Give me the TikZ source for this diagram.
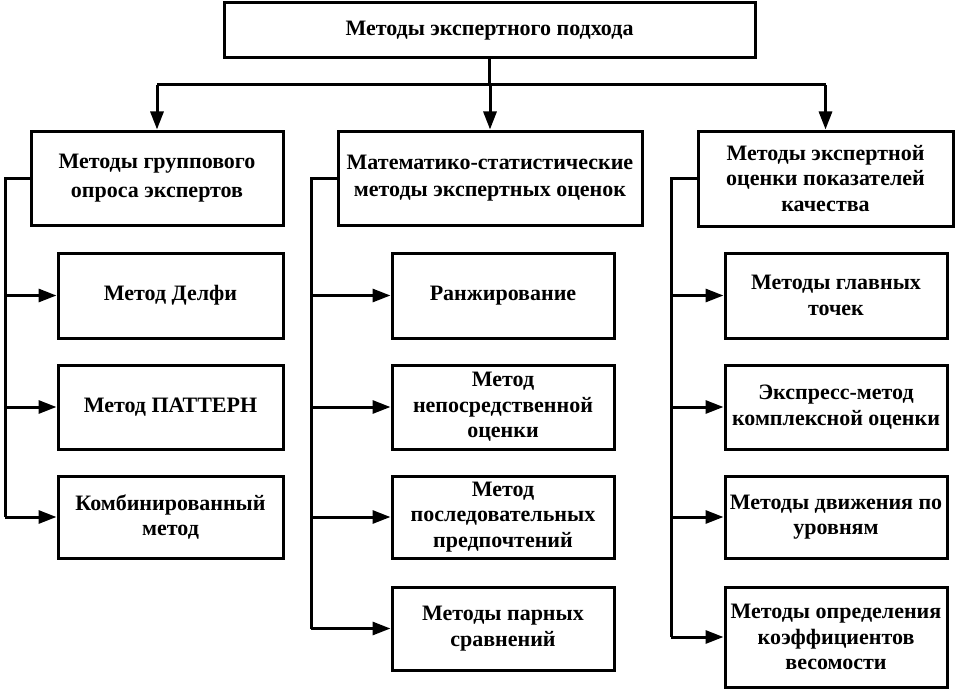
\documentclass[tikz,border=0pt]{standalone}
\usepackage{fontspec}
\setmainfont{Liberation Serif}
\usetikzlibrary{arrows.meta}
\begin{document}
\begin{tikzpicture}[x=1pt,y=-1pt,
  box/.style={draw,line width=3pt,inner sep=0pt,align=center,font=\bfseries\fontsize{22}{25.5}\selectfont},
  conn/.style={line width=3pt},
  arr/.style={line width=3pt,-{Triangle[length=18pt,width=13pt]}}]
\fill[white] (0,0) rectangle (960,690);
\useasboundingbox (0,0) rectangle (960,690);
% top
\node[box,minimum width=531pt,minimum height=55pt] (top) at (489.5,30.5) {Методы экспертного подхода};
% level 2
\node[box,minimum width=252pt,minimum height=94pt,font=\bfseries\fontsize{22}{29}\selectfont] (g1) at (157,178) {Методы группового\\опроса экспертов};
\node[box,minimum width=304pt,minimum height=94pt,font=\bfseries\fontsize{22}{27}\selectfont] (g2) at (490,178) {Математико-статистические\\методы экспертных оценок};
\node[box,minimum width=255pt,minimum height=95pt] (g3) at (825.5,178.5) {Методы экспертной\\оценки показателей\\качества};
% left leaves
\node[box,minimum width=225pt,minimum height=85pt] (a1) at (170.5,295.5) {Метод Делфи};
\node[box,minimum width=225pt,minimum height=84pt] (a2) at (170.5,407) {Метод ПАТТЕРН};
\node[box,minimum width=225pt,minimum height=82pt] (a3) at (170.5,517) {Комбинированный\\метод};
% middle leaves
\node[box,minimum width=222pt,minimum height=85pt] (b1) at (503,295.5) {Ранжирование};
\node[box,minimum width=222pt,minimum height=84pt] (b2) at (503,407) {Метод\\непосредственной\\оценки};
\node[box,minimum width=222pt,minimum height=82pt] (b3) at (503,517) {Метод\\последовательных\\предпочтений};
\node[box,minimum width=222pt,minimum height=83pt] (b4) at (503,628.5) {Методы парных\\сравнений};
% right leaves
\node[box,minimum width=222pt,minimum height=85pt] (c1) at (836,295.5) {Методы главных\\точек};
\node[box,minimum width=222pt,minimum height=84pt] (c2) at (836,407) {Экспресс-метод\\комплексной оценки};
\node[box,minimum width=222pt,minimum height=82pt] (c3) at (836,517) {Методы движения по\\уровням};
\node[box,minimum width=222pt,minimum height=100pt] (c4) at (836,637) {Методы определения\\коэффициентов\\весомости};
% top connectors
\coordinate (hbar) at (0,85);
\draw[conn] (top.south) -- (top.south |- hbar);
\draw[conn] (g1.north |- hbar) -- (g3.north |- hbar);
\draw[arr] (g1.north |- hbar) -- (g1.north);
\draw[arr] (g2.north |- hbar) -- (g2.north);
\draw[arr] (g3.north |- hbar) -- (g3.north);
% trunks
\coordinate (tl) at (5,0);
\coordinate (tm) at (311,0);
\coordinate (tr) at (671,0);
\draw[conn] (g1.west) -- (g1.west -| tl) -- (a3.west -| tl);
\draw[conn] (g2.west) -- (g2.west -| tm) -- (b4.west -| tm);
\draw[conn] (g3.west) -- (g3.west -| tr) -- (c4.west -| tr);
\foreach \n in {a1,a2,a3} \draw[arr] (\n.west -| tl) -- (\n.west);
\foreach \n in {b1,b2,b3,b4} \draw[arr] (\n.west -| tm) -- (\n.west);
\foreach \n in {c1,c2,c3,c4} \draw[arr] (\n.west -| tr) -- (\n.west);
\end{tikzpicture}
\end{document}
